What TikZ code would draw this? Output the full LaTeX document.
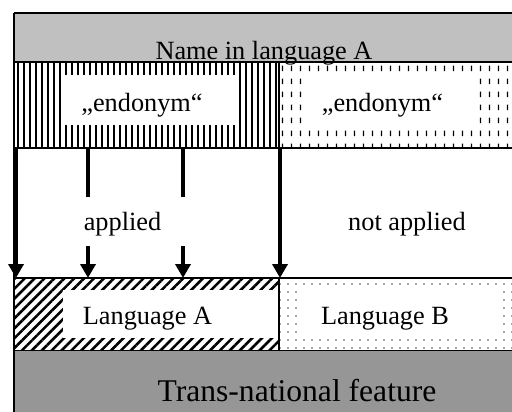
\documentclass[tikz,border=0pt]{standalone}
\usepackage{fontspec}
\setmainfont{Liberation Serif}
\usetikzlibrary{patterns,patterns.meta,arrows.meta}

\definecolor{namegray}{RGB}{192,192,192}
\definecolor{featgray}{RGB}{150,150,150}

% short vertical dashes
\pgfdeclarepatternformonly{vdashes}{\pgfqpoint{0pt}{0pt}}{\pgfqpoint{9pt}{13pt}}{\pgfqpoint{9pt}{13pt}}{%
  \pgfsetlinewidth{1.4pt}%
  \pgfpathmoveto{\pgfqpoint{4pt}{3pt}}\pgfpathlineto{\pgfqpoint{4pt}{9pt}}%
  \pgfusepath{stroke}}

\tikzset{
  lbl/.style={font=\fontsize{26.3}{30}\selectfont, inner sep=0pt, anchor=base},
  biglbl/.style={font=\fontsize{31.6}{36}\selectfont, inner sep=0pt, anchor=base},
  arr/.style={line width=3.5pt, -{Triangle[length=14pt,width=15pt]}},
  stub/.style={line width=3.5pt},
  rule/.style={line width=1.5pt}
}

\begin{document}
\begin{tikzpicture}[x=1pt,y=1pt]
\useasboundingbox (0,0) rectangle (512,-412);
\clip (0,0) rectangle (512,-412);
% fills
\fill [namegray] (14,-13) rectangle (514,-62);
\fill [pattern={Lines[angle=90,distance=6pt,line width=1.3pt]}] (14,-62) rectangle (279,-148);
\fill [white] (63,-75) rectangle (238,-125);
\fill [pattern=vdashes] (279,-62) rectangle (514,-148);
\fill [white] (302,-75) rectangle (473,-127);
\fill [pattern={Lines[angle=45,distance=7pt,line width=2.6pt]}] (14,-278) rectangle (279,-350);
\fill [white] (63,-290) rectangle (279,-338);
\fill [pattern={Dots[distance=8pt,radius=0.9pt]}, pattern color=black!70] (279,-278) rectangle (514,-350);
\fill [white] (298,-291) rectangle (498,-338);
\fill [featgray] (14,-350) rectangle (514,-414);
% rules
\draw [rule] (14,-13) -- (514,-13);
\draw [rule] (14,-62) -- (514,-62);
\draw [rule] (14,-148) -- (514,-148);
\draw [rule] (14,-278) -- (514,-278);
\draw [line width=1pt] (14,-350) -- (514,-350);
\draw [rule] (14,-13) -- (14,-414);
\draw [rule] (279,-62) -- (279,-148);
\draw [rule] (279,-278) -- (279,-350);
% texts
\node [lbl] (name) at (264,-59.5) {Name in language A};
\node [lbl] (endoA) at (142,-112) {„endonym“};
\node [lbl] (endoB) at (382.5,-112) {„endonym“};
\node [lbl] (appl) at (122.5,-230) {applied};
\node [lbl] (notappl) at (407,-230) {not applied};
\node [lbl] (langA) at (147.5,-324) {Language A};
\node [lbl] (langB) at (385,-324) {Language B};
\node [biglbl] (feat) at (297,-401.5) {Trans-national feature};
% arrows
\coordinate (s1) at (16,-148);  \coordinate (e1) at (16,-278);
\coordinate (s2) at (88,-148);  \coordinate (m2) at (88,-197);
\coordinate (n2) at (88,-246);  \coordinate (e2) at (88,-278);
\coordinate (s3) at (183,-148); \coordinate (m3) at (183,-197);
\coordinate (n3) at (183,-246); \coordinate (e3) at (183,-278);
\coordinate (s4) at (280,-148); \coordinate (e4) at (280,-278);
\draw [arr] (s1) -- (e1);
\draw [stub] (s2) -- (m2);
\draw [arr] (n2) -- (e2);
\draw [stub] (s3) -- (m3);
\draw [arr] (n3) -- (e3);
\draw [arr] (s4) -- (e4);
\end{tikzpicture}
\end{document}
